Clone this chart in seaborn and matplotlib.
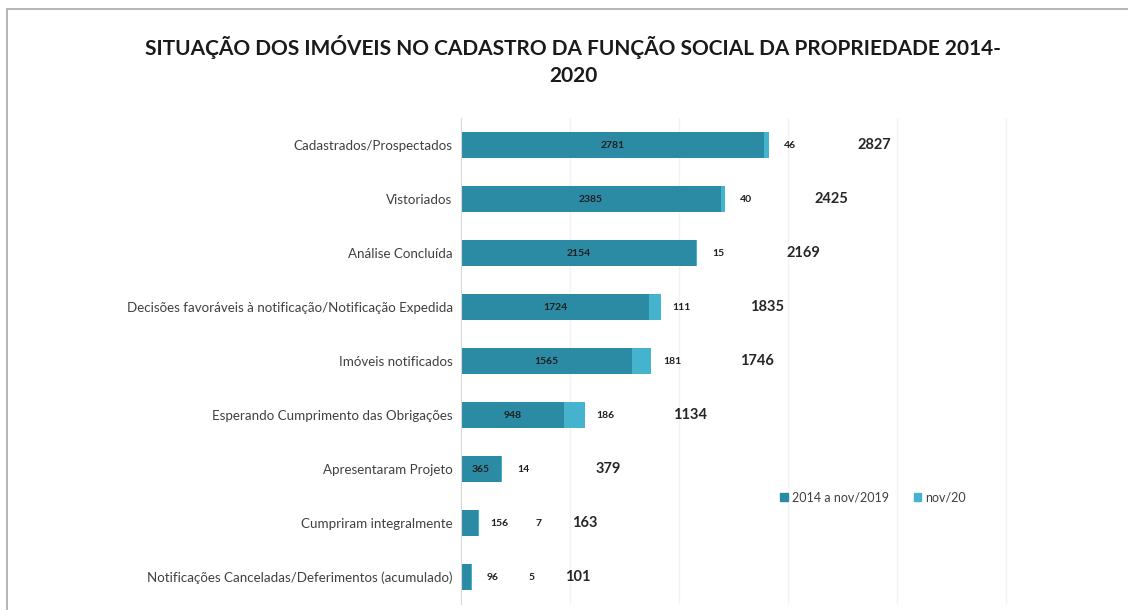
import matplotlib
matplotlib.use("Agg")
import matplotlib.pyplot as plt
import seaborn as sns
import pandas as pd
from matplotlib.patches import Rectangle, Patch

# categories and values
categorias = [
    'Cadastrados/Prospectados',
    'Vistoriados',
    'Análise Concluída',
    'Decisões favoráveis à notificação/Notificação Expedida',
    'Imóveis notificados',
    'Esperando Cumprimento das Obrigações',
    'Apresentaram Projeto',
    'Cumpriram integralmente',
    'Notificações Canceladas/Deferimentos (acumulado)',
]
ate_2019 = [2781, 2385, 2154, 1724, 1565, 948, 365, 156, 96]
nov_20 = [46, 40, 15, 111, 181, 186, 14, 7, 5]
totais = [2827, 2425, 2169, 1835, 1746, 1134, 379, 163, 101]

cor_escura = '#2B8AA4'
cor_clara = '#45B2CE'

df = pd.DataFrame({'cat': categorias, 'a': ate_2019, 'b': nov_20, 'total': totais})

sns.set_style('white')
plt.rcParams['font.family'] = ['Lato', 'DejaVu Sans']

fig = plt.figure(figsize=(11.28, 6.10), dpi=100)
fig.patches.append(Rectangle((7 / 1128, -0.1), 1.2, (1 - 9 / 610) + 0.1, transform=fig.transFigure,
                             fill=False, edgecolor='#A8A8A8', linewidth=1.2))
ax = fig.add_axes([461 / 1128, 6 / 610, 654 / 1128, 486 / 610])

sns.barplot(data=df, y='cat', x='total', color=cor_clara, orient='h', width=0.48,
            saturation=1, linewidth=0, ax=ax)
sns.barplot(data=df, y='cat', x='a', color=cor_escura, orient='h', width=0.48,
            saturation=1, linewidth=0, ax=ax)

ax.set_xlim(0, 6000)
ax.set_ylim(8.5, -0.5)
ax.set_xticks(range(1000, 6001, 1000))
ax.xaxis.grid(True, color='#F2F2F2', linewidth=1)
ax.set_axisbelow(True)
ax.tick_params(axis='x', labelbottom=False, length=0)
ax.tick_params(axis='y', length=0, pad=6, labelsize=9.6, labelcolor='#404040')
ax.set_xlabel('')
ax.set_ylabel('')
for s in ['top', 'right', 'bottom']:
    ax.spines[s].set_visible(False)
ax.spines['left'].set_color('#D9D9D9')

for i in range(len(categorias)):
    a, b, t = ate_2019[i], nov_20[i], totais[i]
    if a >= 300:
        ax.annotate(str(a), (a / 2, i), ha='center', va='center', fontsize=7.5,
                    fontweight='bold', color='#1F1F1F')
        ax.annotate(str(b), (t, i), xytext=(15, 0), textcoords='offset points',
                    ha='center', va='center', fontsize=7.5, fontweight='bold', color='#1F1F1F')
    else:
        ax.annotate(str(a), (t, i), xytext=(15, 0), textcoords='offset points',
                    ha='center', va='center', fontsize=7.5, fontweight='bold', color='#1F1F1F')
        ax.annotate(str(b), (t, i), xytext=(43, 0), textcoords='offset points',
                    ha='center', va='center', fontsize=7.5, fontweight='bold', color='#1F1F1F')
    ax.annotate(str(t), (t, i), xytext=(76, 0), textcoords='offset points',
                ha='center', va='center', fontsize=10.5, fontweight='bold', color='#262626')

fig.text(573 / 1128, 1 - 47 / 610, 'SITUAÇÃO DOS IMÓVEIS NO CADASTRO DA FUNÇÃO SOCIAL DA PROPRIEDADE 2014-',
         ha='center', va='center', fontsize=15, fontweight='bold', color='#1A1A1A')
fig.text(573 / 1128, 1 - 76 / 610, '2020', ha='center', va='center', fontsize=15,
         fontweight='bold', color='#1A1A1A')

handles = [Patch(color=cor_escura, label='2014 a nov/2019'), Patch(color=cor_clara, label='nov/20')]
fig.legend(handles=handles, loc='center', bbox_to_anchor=(873 / 1128, 1 - 497 / 610), ncol=2,
           frameon=False, fontsize=9, handlelength=0.6, handleheight=0.6, handletextpad=0.3,
           columnspacing=2.0, labelcolor='#404040')

fig.savefig('out.png', dpi=100)
